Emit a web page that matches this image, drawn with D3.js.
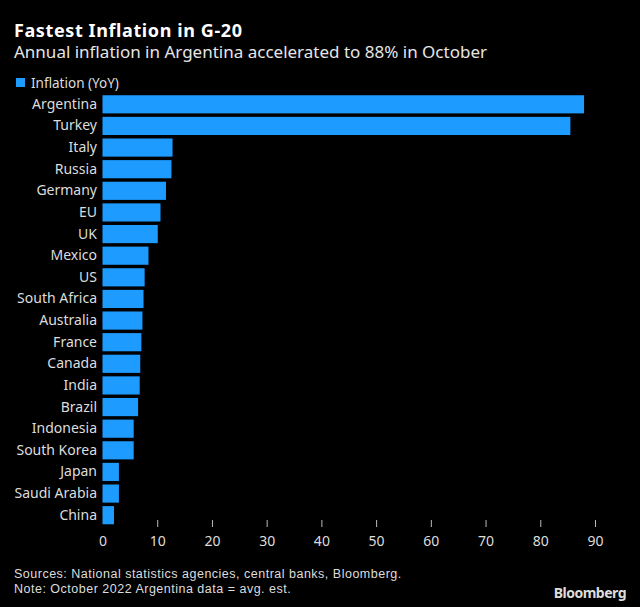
<!DOCTYPE html>
<html><head><meta charset="utf-8">
<script src="https://cdn.jsdelivr.net/npm/d3@7"></script>
<style>
html,body{margin:0;padding:0;background:#000;}
svg{display:block;}
text{font-family:"Noto Sans",sans-serif;}
</style></head>
<body>
<script>
const countries = ["Argentina","Turkey","Italy","Russia","Germany","EU","UK","Mexico","US","South Africa","Australia","France","Canada","India","Brazil","Indonesia","South Korea","Japan","Saudi Arabia","China"];
const inflation = [88.0,85.5,12.8,12.6,11.6,10.6,10.1,8.4,7.7,7.5,7.3,7.1,6.9,6.8,6.5,5.7,5.7,3.0,3.0,2.1];
const tickValues = [0,10,20,30,40,50,60,70,80,90];
const seriesName = "Inflation (YoY)";
const title = "Fastest Inflation in G-20";
const subtitle = "Annual inflation in Argentina accelerated to 88% in October";
const notes = ["Sources: National statistics agencies, central banks, Bloomberg.","Note: October 2022 Argentina data = avg. est."];

const W=640,H=607;
const svg=d3.select("body").append("svg").attr("width",W).attr("height",H);
svg.append("rect").attr("width",W).attr("height",H).attr("fill","#000");

const x=d3.scaleLinear().domain([0,90]).range([102.5,595]);
const y=d3.scaleBand().domain(countries).range([93.5,526]).paddingInner(0.16).paddingOuter(0.08);
const blue="#1e9bff";

svg.append("text").attr("x",14).attr("y",37).attr("fill","#fff").attr("font-size",18).attr("font-weight","bold").attr("letter-spacing",0.6).text(title);
svg.append("text").attr("x",14).attr("y",58).attr("fill","#e6e6e6").attr("font-size",17).text(subtitle);

svg.append("rect").attr("x",16).attr("y",78).attr("width",9).attr("height",9).attr("fill",blue);
svg.append("text").attr("x",31).attr("y",88).attr("fill","#ddd").attr("font-size",13.5).text(seriesName);

const data=countries.map((c,i)=>({c,v:inflation[i]}));
svg.append("g").selectAll("rect").data(data).join("rect")
  .attr("x",x(0)).attr("y",d=>y(d.c)).attr("width",d=>x(d.v)-x(0)).attr("height",y.bandwidth()).attr("fill",blue);

const gy=svg.append("g").attr("transform",`translate(${x(0)-5.5},0)`)
  .call(d3.axisLeft(y).tickSize(0).tickPadding(0));
gy.select(".domain").remove();
gy.selectAll("text").attr("fill","#ddd").attr("font-size",14);

const gx=svg.append("g").attr("transform","translate(0,520)")
  .call(d3.axisBottom(x).tickValues(tickValues).tickSize(7).tickPadding(9).tickFormat(d3.format("d")));
gx.select(".domain").remove();
gx.selectAll("line").attr("stroke","#bbb");
gx.selectAll(".tick").filter(d=>d===0).select("line").remove();
gx.selectAll("text").attr("fill","#ddd").attr("font-size",14);

svg.append("g").selectAll("text").data(notes).join("text")
  .attr("x",14).attr("y",(d,i)=>578+i*14.7).attr("fill","#ddd").attr("font-size",12.5)
  .attr("letter-spacing",0.5)
  .style("font-family","'Liberation Sans', sans-serif").text(d=>d);

svg.append("text").attr("x",626).attr("y",598).attr("text-anchor","end").attr("fill","#ddd").attr("font-size",14).attr("font-weight","bold").attr("letter-spacing","-0.5").text("Bloomberg");
</script>
</body></html>
